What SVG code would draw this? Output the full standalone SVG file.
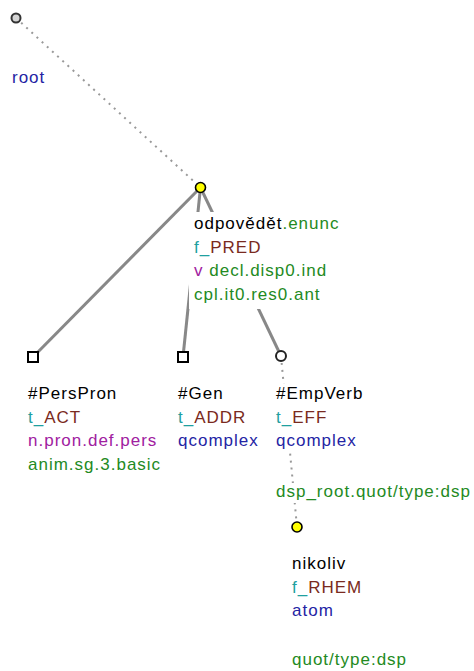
<svg xmlns="http://www.w3.org/2000/svg" width="474" height="671" viewBox="0 0 474 671">
<style>
text{font-family:"Liberation Sans",Arial,sans-serif;font-size:17px;letter-spacing:1px}
.k{fill:#000}.tl{fill:#1fa0a0}.br{fill:#7a2a20}.pu{fill:#a020a0}.gr{fill:#238a23}.bl{fill:#2424a4}
.edge{stroke:#888;stroke-width:3;fill:none}
.dot{stroke:#999;stroke-width:2;stroke-dasharray:2 5;fill:none}
.bg{fill:#fff}
.sq{fill:#fff;stroke:#000;stroke-width:2}
.ci{fill:#fff;stroke:#222;stroke-width:2}
.ye{fill:#ffff00;stroke:#000;stroke-width:1.6}
</style>
<rect width="474" height="671" fill="#fff"/>
<g id="connectors">
<line class="dot" x1="16" y1="18" x2="200.5" y2="187.5"/>
<line class="edge" x1="200.5" y1="187.5" x2="33" y2="357"/>
<line class="edge" x1="200.5" y1="187.5" x2="183" y2="357"/>
<line class="edge" x1="200.5" y1="187.5" x2="281" y2="356"/>
<line class="dot" x1="281" y1="356" x2="297" y2="527"/>
</g>
<g id="root">
<circle class="ci" cx="16" cy="18" r="4.5" style="fill:#d4d4d4;stroke:#333"/>
<text x="12" y="83" class="bl">root</text>
</g>
<g id="odpovedet">
<rect class="bg" x="189" y="212" width="157" height="97"/>
<circle class="ye" cx="200.5" cy="187.5" r="5"/>
<text x="194" y="229"><tspan class="k">odpovědět</tspan><tspan class="gr">.enunc</tspan></text>
<text x="194" y="252.5"><tspan class="tl">f_</tspan><tspan class="br">PRED</tspan></text>
<text x="194" y="276"><tspan class="pu">v</tspan><tspan class="gr"> decl.disp0.ind</tspan></text>
<text x="194" y="299.5" class="gr">cpl.it0.res0.ant</text>
</g>
<g id="perspron">
<rect class="sq" x="28" y="352" width="10" height="10"/>
<text x="28" y="399" class="k">#PersPron</text>
<text x="28" y="422.5"><tspan class="tl">t_</tspan><tspan class="br">ACT</tspan></text>
<text x="28" y="446" class="pu">n.pron.def.pers</text>
<text x="28" y="470" class="gr">anim.sg.3.basic</text>
</g>
<g id="gen">
<rect class="sq" x="178" y="352" width="10" height="10"/>
<text x="178" y="399" class="k">#Gen</text>
<text x="178" y="422.5"><tspan class="tl">t_</tspan><tspan class="br">ADDR</tspan></text>
<text x="178" y="446" class="bl">qcomplex</text>
</g>
<g id="empverb">
<rect class="bg" x="274" y="384" width="96" height="68"/>
<rect class="bg" x="274" y="483" width="198" height="20"/>
<circle class="ci" cx="281" cy="356" r="5"/>
<text x="276" y="398.5" class="k">#EmpVerb</text>
<text x="276" y="422.5"><tspan class="tl">t_</tspan><tspan class="br">EFF</tspan></text>
<text x="276" y="446" class="bl">qcomplex</text>
<text x="276" y="497" class="gr">dsp_root.quot/type:dsp</text>
</g>
<g id="nikoliv">
<circle class="ye" cx="297" cy="527" r="5"/>
<text x="292" y="568.5" class="k">nikoliv</text>
<text x="292" y="592.5"><tspan class="tl">f_</tspan><tspan class="br">RHEM</tspan></text>
<text x="292" y="616" class="bl">atom</text>
<text x="292" y="664.5" class="gr">quot/type:dsp</text>
</g>
</svg>
